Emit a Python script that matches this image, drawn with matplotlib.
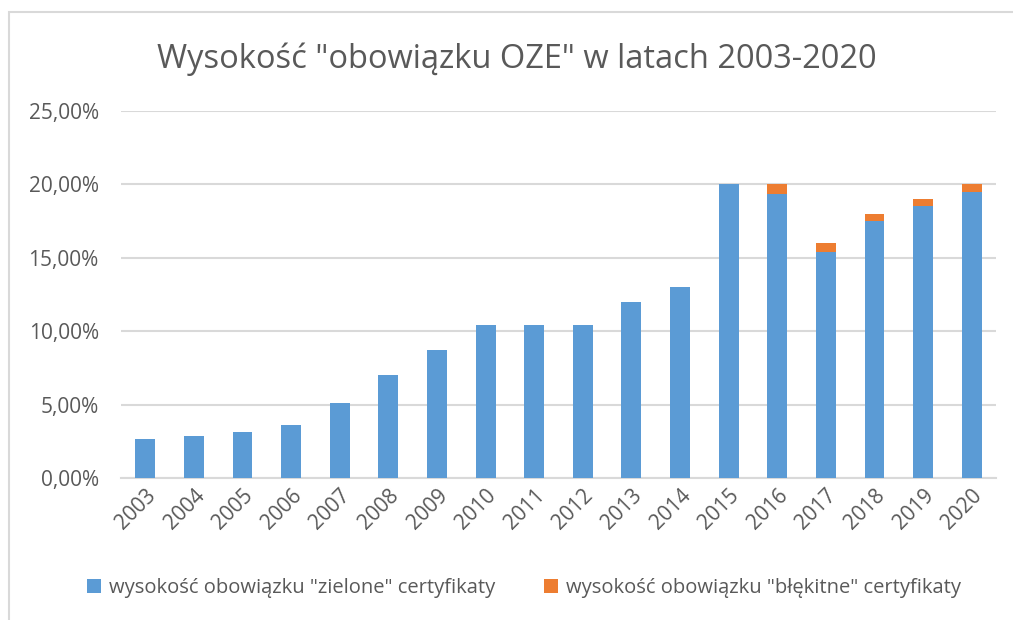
import numpy as np
import matplotlib.pyplot as plt
from matplotlib.patches import Rectangle
from matplotlib.ticker import FuncFormatter

years = [str(y) for y in range(2003, 2021)]
zielone = [2.65, 2.85, 3.1, 3.6, 5.1, 7.0, 8.7, 10.4, 10.4, 10.4,
           12.0, 13.0, 20.0, 19.35, 15.4, 17.5, 18.5, 19.5]
blekitne = [0, 0, 0, 0, 0, 0, 0, 0, 0, 0,
            0, 0, 0, 0.65, 0.6, 0.5, 0.5, 0.5]

BLUE = '#5B9BD5'
ORANGE = '#ED7D31'
TEXT = '#595959'
GRID = '#D9D9D9'

plt.rcParams['font.family'] = ['Open Sans', 'DejaVu Sans']

fig = plt.figure(figsize=(10.13, 6.2), dpi=100)
# chart frame (cropped on right and bottom like the screenshot)
fig.patches.append(Rectangle((9 / 1013, -0.1), 1.2, 1 - 12 / 620 + 0.1,
                             transform=fig.transFigure, fill=False,
                             edgecolor=GRID, linewidth=1.5))

ax = fig.add_axes([121 / 1013, 1 - 478 / 620, 875 / 1013, 367 / 620])
x = np.arange(len(years))
ax.bar(x, zielone, width=0.41, color=BLUE,
       label='wysokość obowiązku "zielone" certyfikaty', zorder=3)
ax.bar(x, blekitne, width=0.41, bottom=zielone, color=ORANGE,
       label='wysokość obowiązku "błękitne" certyfikaty', zorder=3)

ax.set_xlim(-0.5, len(years) - 0.5)
ax.set_ylim(0, 25)
ax.set_yticks(np.arange(0, 26, 5))
ax.yaxis.set_major_formatter(FuncFormatter(lambda v, p: f'{v:.2f}%'.replace('.', ',')))
ax.grid(axis='y', color=GRID, linewidth=1.5, zorder=0)
ax.set_xticks(x)
ax.set_xticklabels(years, rotation=45, ha='right', rotation_mode='anchor')

for s in ['top', 'right', 'left']:
    ax.spines[s].set_visible(False)
ax.spines['bottom'].set_color(GRID)
ax.spines['bottom'].set_linewidth(1.5)
ax.tick_params(axis='both', length=0, labelsize=15, labelcolor=TEXT)
ax.tick_params(axis='y', pad=16)
ax.tick_params(axis='x', pad=5)

fig.text(0.51, 1 - 59 / 620, 'Wysokość "obowiązku OZE" w latach 2003-2020',
         ha='center', va='center', fontsize=23.5, color=TEXT)

fig.legend(loc='center', bbox_to_anchor=(0.517, 1 - 588 / 620), ncol=2,
           frameon=False, fontsize=14.5, labelcolor=TEXT, handlelength=0.7,
           handleheight=0.7, handletextpad=0.4, columnspacing=2.4)

fig.savefig('out.png', dpi=100)
